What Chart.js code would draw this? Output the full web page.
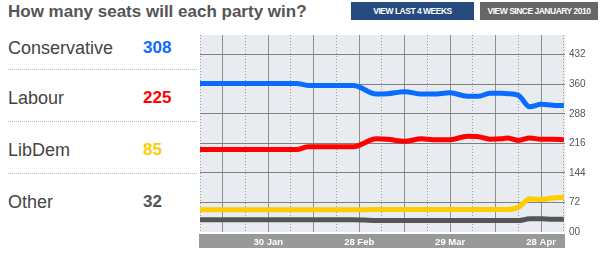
<!DOCTYPE html>
<html>
<head>
<meta charset="utf-8">
<script src="https://cdn.jsdelivr.net/npm/chart.js"></script>
<style>
body{margin:0;width:600px;height:255px;overflow:hidden;background:#fff;font-family:"Liberation Sans",Arial,sans-serif;position:relative}
#title{position:absolute;left:8px;top:2px;font-size:17px;font-weight:bold;color:#555;line-height:20px;white-space:nowrap}
.btn{position:absolute;top:2px;height:18px;line-height:18px;color:#fff;font-size:8.5px;font-weight:bold;text-align:center;letter-spacing:-0.5px;white-space:nowrap}
#b1{left:351px;width:123px;background:#264c7e}
#b2{left:480px;width:118px;background:#666}
.name{position:absolute;left:8px;font-size:18px;line-height:20px;color:#444;white-space:nowrap}
.val{position:absolute;left:143px;font-size:17px;font-weight:bold;line-height:20px}
.sep{position:absolute;left:8px;width:189px;height:0;border-top:1px dotted #bbb}
#wrap{position:absolute;left:195px;top:25px;width:405px;height:230px}
</style>
</head>
<body>
<div id="title">How many seats will each party win?</div>
<div class="btn" id="b1">VIEW LAST 4 WEEKS</div>
<div class="btn" id="b2">VIEW SINCE JANUARY 2010</div>
<div id="legend"></div>
<div id="wrap"><canvas id="chart"></canvas></div>
<script>
'use strict';

// party list shown at the left
const parties = ['Conservative', 'Labour', 'LibDem', 'Other'];
const seats = [308, 225, 85, 32];
const colours = ['#0a6cff', '#ff0000', '#ffcc00', '#555555'];

// x positions in weeks from the left edge of the chart
const weeks = [0, 4.25, 4.75, 6.75, 7.75, 8.25, 9, 9.75, 10.25, 11, 11.75, 12.25, 12.75, 13.25, 13.5, 14, 14.5, 15, 15.5, 16];
const conservative = [362, 362, 357, 357, 336, 337, 342, 336, 336, 339, 331, 331, 338, 338, 337, 333, 305, 311, 309, 308];
const labour = [201, 201, 208, 208, 227, 226, 221, 227, 225, 225, 233, 232, 226, 227, 229, 223, 229, 226, 226, 225];
const libdem = [54, 54, 54, 54, 55, 55, 55, 55, 55, 55, 55, 55, 55, 55, 55, 60, 81, 79, 83, 84];
const other = [30, 30, 30, 30, 28, 28, 28, 28, 28, 28, 28, 28, 28, 28, 28, 28, 32, 32, 31, 31];

const tickPos = [3, 7, 11, 15];
const tickLabels = ['30 Jan', '28 Feb', '29 Mar', '28 Apr'];
const yTicks = [0, 72, 144, 216, 288, 360, 432];
const gridPos = [0, 1, 2, 3, 4, 5, 6, 7, 8, 9, 10, 11, 12, 13, 14, 15, 16];

// left legend
let legendElem = document.getElementById('legend');
let rowTops = [38, 88, 140, 192];
let sepTops = [69, 121, 173];
for (let i = 0; i < parties.length; i++) {
  let n = document.createElement('div');
  n.className = 'name';
  n.style.top = rowTops[i] + 'px';
  n.textContent = parties[i];
  legendElem.appendChild(n);
  let v = document.createElement('div');
  v.className = 'val';
  v.style.top = rowTops[i] + 'px';
  v.style.color = colours[i];
  v.textContent = seats[i];
  legendElem.appendChild(v);
}
for (let i = 0; i < sepTops.length; i++) {
  let s = document.createElement('div');
  s.className = 'sep';
  s.style.top = sepTops[i] + 'px';
  legendElem.appendChild(s);
}

function points(values) {
  let out = [];
  for (let i = 0; i < weeks.length; i++) {
    out.push({x: weeks[i], y: values[i]});
  }
  return out;
}

const backdrop = {
  id: 'backdrop',
  beforeDraw(chart) {
    let ctx = chart.ctx;
    let a = chart.chartArea;
    ctx.save();
    ctx.fillStyle = '#e8ebf0';
    ctx.fillRect(a.left, a.top, a.right - a.left, a.bottom - a.top);
    ctx.fillStyle = '#999999';
    ctx.fillRect(a.left - 1, a.bottom + 2, a.right - a.left + 1, 14);
    ctx.restore();
  }
};

let allSeries = [conservative, labour, libdem, other];
let datasets = [];
for (let i = 0; i < parties.length; i++) {
  datasets.push({
    label: parties[i],
    data: points(allSeries[i]),
    borderColor: colours[i],
    borderWidth: 5,
    pointRadius: 0,
    fill: false,
    cubicInterpolationMode: 'monotone'
  });
}

new Chart(document.getElementById('chart'), {
  type: 'line',
  data: {datasets: datasets},
  plugins: [backdrop],
  options: {
    responsive: true,
    maintainAspectRatio: false,
    animation: false,
    layout: {padding: {left: 4, top: 4, right: 0, bottom: 0}},
    plugins: {legend: {display: false}, tooltip: {enabled: false}},
    scales: {
      x: {
        type: 'linear',
        position: 'bottom',
        min: 0,
        max: 16.05,
        afterBuildTicks(axis) { axis.ticks = gridPos.map(v => ({value: v})); },
        afterFit(axis) { axis.height = 23; },
        border: {display: false},
        grid: {
          drawTicks: false,
          lineWidth: 1,
          color: ctx => (ctx.tick && ctx.tick.value % 2 === 1) ? '#8f8f8f' : 'rgba(0,0,0,0)'
        },
        ticks: {
          autoSkip: false,
          maxRotation: 0,
          padding: 5,
          color: '#ffffff',
          font: {family: 'Liberation Sans', size: 9.5, weight: 'bold'},
          callback: v => {
            let idx = tickPos.indexOf(v);
            return idx >= 0 ? tickLabels[idx] : '';
          }
        }
      },
      x2: {
        type: 'linear',
        position: 'top',
        min: 0,
        max: 16.05,
        afterBuildTicks(axis) { axis.ticks = gridPos.map(v => ({value: v})); },
        afterFit(axis) { axis.height = 0; },
        border: {display: false, dash: [1, 2]},
        grid: {
          drawTicks: false,
          lineWidth: 1,
          color: ctx => (ctx.tick && ctx.tick.value % 2 === 0) ? '#9a9a9a' : 'rgba(0,0,0,0)'
        },
        ticks: {display: false}
      },
      y: {
        position: 'right',
        min: 0,
        max: 480,
        afterBuildTicks(axis) { axis.ticks = yTicks.map(v => ({value: v})); },
        afterFit(axis) { axis.width = 35; },
        border: {display: false},
        grid: {
          drawTicks: false,
          lineWidth: 1,
          color: ctx => (ctx.tick && ctx.tick.value > 0) ? '#808080' : 'rgba(0,0,0,0)'
        },
        ticks: {
          padding: 4,
          color: '#555555',
          font: {family: 'Liberation Sans', size: 10},
          callback: v => v === 0 ? '00' : String(v)
        }
      }
    }
  }
});
</script>
</body>
</html>
